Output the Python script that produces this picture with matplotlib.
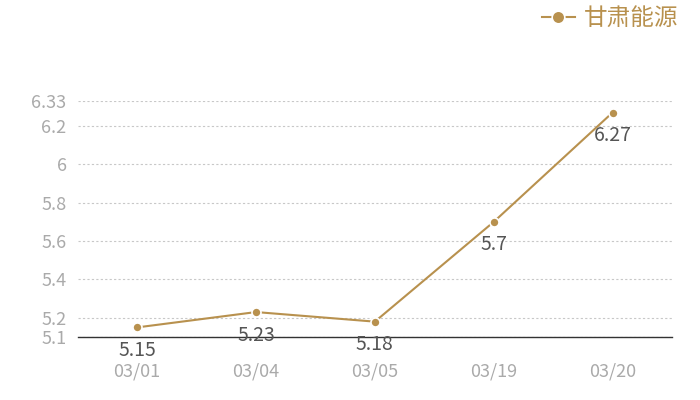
import matplotlib.pyplot as plt

plt.rcParams['font.family'] = ['Noto Sans CJK SC', 'DejaVu Sans']

# 数据
dates = ['03/01', '03/04', '03/05', '03/19', '03/20']
values = [5.15, 5.23, 5.18, 5.7, 6.27]
yticks = [5.1, 5.2, 5.4, 5.6, 5.8, 6, 6.2, 6.33]
series_name = '甘肃能源'

gold = '#b8914e'

fig = plt.figure(figsize=(7, 4), dpi=100)
ax = fig.add_axes([0.111, 0.1575, 0.849, 0.59])

x = list(range(len(dates)))
ax.plot(x, values, color=gold, linewidth=1.5, marker='o', markersize=6.5,
        markeredgecolor='white', markeredgewidth=1.2, label=series_name, zorder=3)

for xi, v in zip(x, values):
    ax.annotate(f'{v:g}', (xi, v), xytext=(0, -9), textcoords='offset points',
                ha='center', va='top', fontsize=14, color='#555555')

ax.set_xlim(-0.5, len(dates) - 0.5)
ax.set_ylim(5.1, 6.33)
ax.set_xticks(x)
ax.set_xticklabels(dates)
ax.set_yticks(yticks)
ax.set_yticklabels([f'{t:g}' for t in yticks])
ax.tick_params(length=0, labelsize=13, colors='#aaaaaa', pad=8)
ax.tick_params(axis='x', pad=18)

ax.grid(axis='y', linestyle=(0, (2, 2)), color='#c8c8c8', linewidth=0.8)
for s in ['top', 'right', 'left']:
    ax.spines[s].set_visible(False)
ax.spines['bottom'].set_color('#333333')
ax.spines['bottom'].set_linewidth(1)

leg = fig.legend(loc='upper right', bbox_to_anchor=(1.0, 1.035), frameon=False,
                 fontsize=17, handlelength=1.4, handletextpad=0.4, markerscale=1.4)
for t in leg.get_texts():
    t.set_color(gold)

fig.savefig('out.png', dpi=100)
